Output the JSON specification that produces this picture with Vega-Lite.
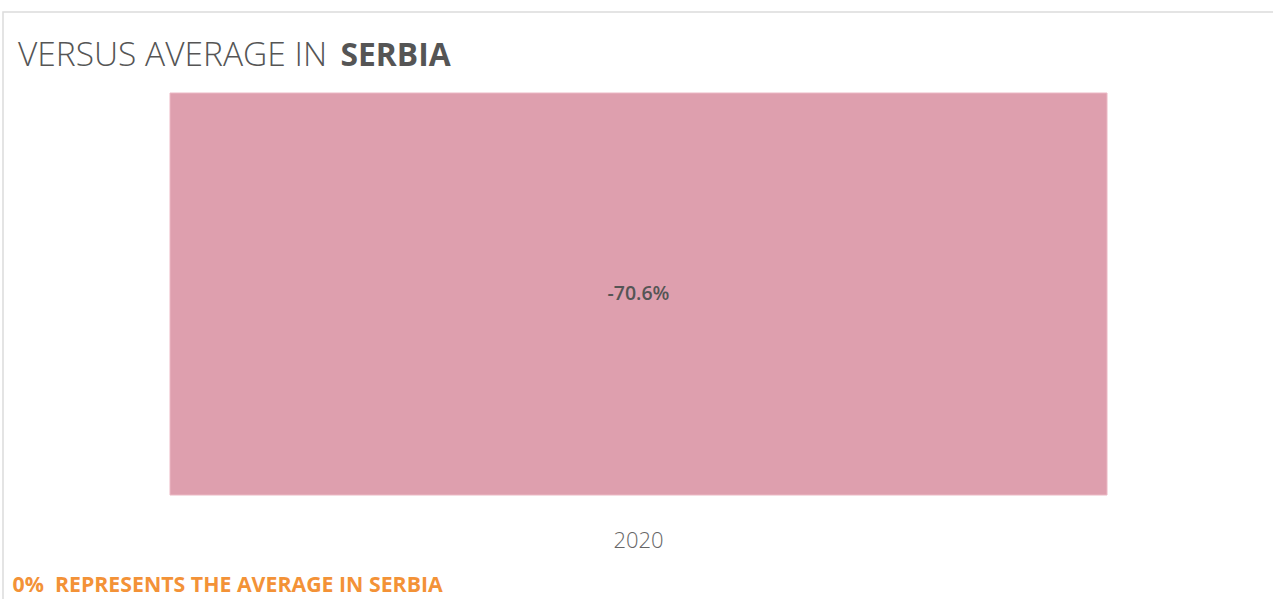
{
  "$schema": "https://vega.github.io/schema/vega-lite/v6.json",
  "autosize": {"type": "none"},
  "padding": {"left": 3, "top": 12, "right": 0, "bottom": 0},
  "width": 1271,
  "height": 600,
  "background": "white",
  "config": {
    "font": "Open Sans",
    "view": {"stroke": "#dcdcdc", "strokeWidth": 1.5},
    "locale": {
      "number": {"decimal": ".", "thousands": ",", "grouping": [3], "currency": ["$", ""], "minus": "-"}
    }
  },
  "title": {
    "text": "VERSUS AVERAGE IN",
    "anchor": "start",
    "frame": "group",
    "font": "Open Sans",
    "fontSize": 33.5,
    "fontWeight": 300,
    "color": "#555555",
    "baseline": "alphabetic",
    "dx": 15,
    "dy": 91
  },
  "data": {"values": [{"year": "2020", "value": -0.706}]},
  "encoding": {
    "x": {
      "field": "year",
      "type": "nominal",
      "scale": {"range": [167, 1104], "paddingInner": 0, "paddingOuter": 0},
      "axis": {
        "orient": "bottom",
        "offset": -72,
        "ticks": false,
        "domain": false,
        "labelAngle": 0,
        "labelFontSize": 22,
        "labelFontWeight": 300,
        "labelColor": "#666666",
        "labelBaseline": "alphabetic",
        "labelPadding": 7,
        "title": "0%\u00a0 REPRESENTS THE AVERAGE IN SERBIA",
        "titleColor": "#F39237",
        "titleFontSize": 21.3,
        "titleFontWeight": "bold",
        "titleAnchor": "start",
        "titleAlign": "left",
        "titleBaseline": "alphabetic",
        "titleX": 9,
        "titleY": 51
      }
    }
  },
  "layer": [
    {
      "mark": {"type": "bar", "color": "#DE9FAE", "stroke": "#ecb8c4", "strokeWidth": 1},
      "encoding": {
        "y": {
          "field": "value",
          "type": "quantitative",
          "scale": {"domain": [-0.706, 0], "range": [483, 81], "nice": false, "zero": false},
          "axis": {
            "orient": "left",
            "labels": false,
            "ticks": false,
            "domain": false,
            "grid": false,
            "title": "SERBIA",
            "titleAngle": 0,
            "titleAlign": "left",
            "titleBaseline": "alphabetic",
            "titleFontSize": 31.8,
            "titleFontWeight": "bold",
            "titleColor": "#555555",
            "titleX": 337,
            "titleY": 53
          }
        }
      }
    },
    {
      "transform": [{"calculate": "datum.value / 2", "as": "mid"}],
      "mark": {"type": "text", "fontSize": 19.5, "fontWeight": 600, "color": "#555555", "baseline": "middle"},
      "encoding": {
        "y": {"field": "mid", "type": "quantitative"},
        "text": {"field": "value", "type": "quantitative", "format": ".1%"}
      }
    }
  ]
}
